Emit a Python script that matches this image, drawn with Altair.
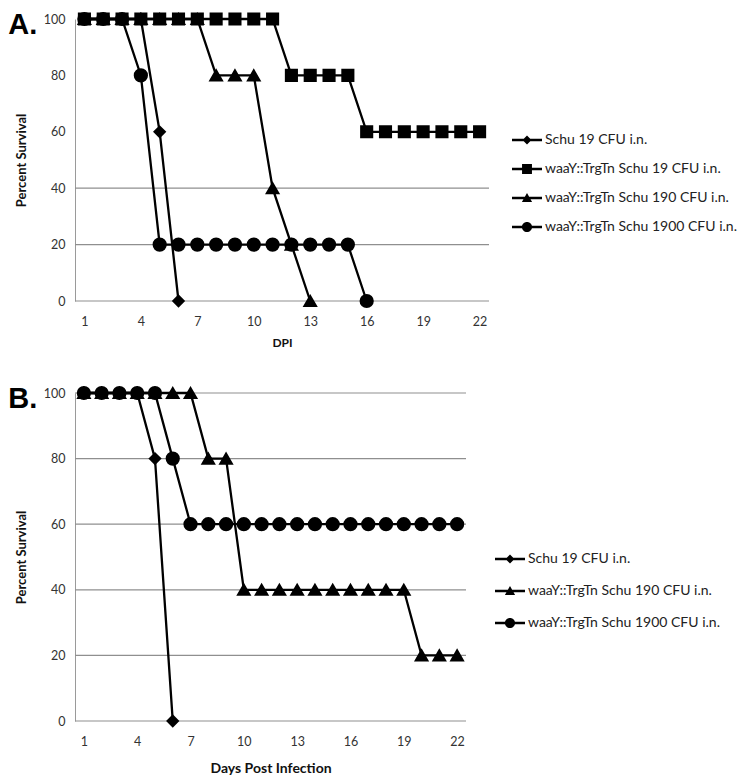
import altair as alt
import pandas as pd

FONT = "Lato"

days = [1, 2, 3, 4, 5, 6, 7, 8, 9, 10, 11, 12, 13, 14, 15, 16, 17, 18, 19, 20, 21, 22]
x_ticks = [1, 4, 7, 10, 13, 16, 19, 22]
y_ticks = [0, 20, 40, 60, 80, 100]

# Panel A
a_series = ["Schu 19 CFU i.n.", "waaY::TrgTn Schu 19 CFU i.n.",
            "waaY::TrgTn Schu 190 CFU i.n.", "waaY::TrgTn Schu 1900 CFU i.n."]
a_schu19 = [100, 100, 100, 100, 60, 0]
a_waay19 = [100, 100, 100, 100, 100, 100, 100, 100, 100, 100, 100,
            80, 80, 80, 80, 60, 60, 60, 60, 60, 60, 60]
a_waay190 = [100, 100, 100, 100, 100, 100, 100, 80, 80, 80, 40, 20, 0]
a_waay1900 = [100, 100, 100, 80, 20, 20, 20, 20, 20, 20, 20, 20, 20, 20, 20, 0]
a_grid = [0, 20, 40]

# Panel B
b_series = ["Schu 19 CFU i.n.", "waaY::TrgTn Schu 190 CFU i.n.",
            "waaY::TrgTn Schu 1900 CFU i.n."]
b_schu19 = [100, 100, 100, 100, 80, 0]
b_waay190 = [100, 100, 100, 100, 100, 100, 100, 80, 80, 40, 40,
             40, 40, 40, 40, 40, 40, 40, 40, 20, 20, 20]
b_waay1900 = [100, 100, 100, 100, 100, 80, 60, 60, 60, 60, 60,
              60, 60, 60, 60, 60, 60, 60, 60, 60, 60, 60]
b_grid = [0, 20, 40, 60, 80, 100]

# legend glyphs: a short line with the marker on it (unit square -1..1)
LINE = "M-1,-0.08H1V0.08H-1Z"
P_DIAMOND = LINE + "M0,-0.3L0.3,0L0,0.3L-0.3,0Z"
P_SQUARE = LINE + "M-0.33,-0.33H0.33V0.33H-0.33Z"
P_TRI = LINE + "M0,-0.33L0.34,0.27L-0.34,0.27Z"
P_CIRCLE = LINE + "M-0.34,0A0.34,0.34,0,1,1,0.34,0A0.34,0.34,0,1,1,-0.34,0Z"


def long_df(series, values):
    rows = []
    for name, vals in zip(series, values):
        for d, v in zip(days, vals):
            rows.append({"series": name, "day": d, "pct": v})
    return pd.DataFrame(rows)


def panel(df, series, shapes, sizes, paths, grid, letter, xtitle, xtitle_size,
          xtitle_pad, w, h, legx, legy, rowpad):
    x = alt.X("day:Q", scale=alt.Scale(domain=[0.5, 22.5], nice=False),
              axis=alt.Axis(values=x_ticks, title=xtitle, grid=False, domain=False,
                            ticks=False, labelPadding=14, titlePadding=xtitle_pad,
                            titleFontSize=xtitle_size, titleFontWeight="bold",
                            titleFont=FONT, titleColor="#111",
                            labelFont=FONT, labelFontSize=12.5, labelColor="#333"))
    y = alt.Y("pct:Q", scale=alt.Scale(domain=[0, 100], nice=False),
              axis=alt.Axis(values=y_ticks, title="Percent Survival", grid=False,
                            domain=True, domainColor="#9a9a9a", ticks=False,
                            labelPadding=10, titlePadding=15,
                            titleFontSize=13, titleFontWeight="bold",
                            titleFont=FONT, titleColor="#111",
                            labelFont=FONT, labelFontSize=12.5, labelColor="#333"))
    gridlayer = alt.Chart(pd.DataFrame({"g": grid})).mark_rule(
        color="#8f8f8f", strokeWidth=1.2).encode(
        y=alt.Y("g:Q", scale=alt.Scale(domain=[0, 100], nice=False)))
    base = alt.Chart(df)
    lines = base.mark_line(color="black", strokeWidth=2.3).encode(
        x=x, y=y, detail="series:N", order="day:Q")
    pts = base.mark_point(filled=True, fill="black", stroke="black", opacity=1).encode(
        x=x, y=y,
        shape=alt.Shape("series:N", scale=alt.Scale(domain=series, range=shapes), legend=None),
        size=alt.Size("series:N", scale=alt.Scale(domain=series, range=sizes), legend=None))
    leg = base.transform_filter("false").mark_point(
        filled=True, fill="black", opacity=1, size=900).encode(
        shape=alt.Shape("series:N", scale=alt.Scale(domain=series, range=paths),
                        legend=alt.Legend(title=None, orient="none", legendX=legx, legendY=legy,
                                          symbolSize=900, symbolFillColor="black",
                                          symbolStrokeWidth=0,
                                          labelFont=FONT, labelFontSize=14, labelColor="#222",
                                          labelOffset=3, rowPadding=rowpad, labelLimit=400)))
    return alt.layer(gridlayer, lines, pts, leg).resolve_scale(shape="independent").properties(
        width=w, height=h,
        title=alt.TitleParams(text=letter, anchor="start", frame="bounds",
                              font="Liberation Sans", fontSize=29, fontWeight="bold",
                              color="black", offset=-31, dx=-7))


df_a = long_df(a_series, [a_schu19, a_waay19, a_waay190, a_waay1900])
df_b = long_df(b_series, [b_schu19, b_waay190, b_waay1900])

chart_a = panel(df_a, a_series, ["diamond", "square", "triangle-up", "circle"],
                [110, 150, 130, 120], [P_DIAMOND, P_SQUARE, P_TRI, P_CIRCLE],
                a_grid, "A.", "DPI", 12, 10, 414, 282, 437, 106, 7)
chart_b = panel(df_b, b_series, ["diamond", "triangle-up", "circle"],
                [85, 140, 150], [P_DIAMOND, P_TRI, P_CIRCLE],
                b_grid, "B.", "Days Post Infection", 14, 14, 391, 328, 420, 151, 10)

chart = alt.vconcat(chart_a, chart_b, spacing=33).configure_view(stroke=None).properties(
    padding={"left": 0, "top": 0, "right": 0, "bottom": 0})

chart.save("out.html", embed_options={"renderer": "svg", "actions": False})
